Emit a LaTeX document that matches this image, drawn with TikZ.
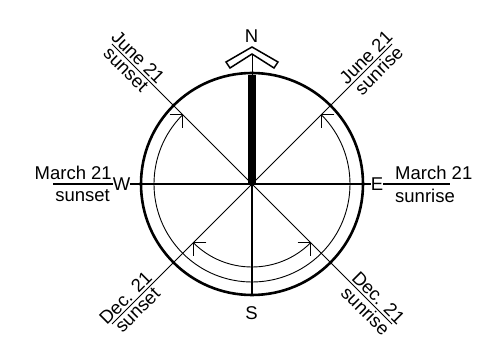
\documentclass[tikz,border=0pt]{standalone}
\usepackage{fontspec}
\setmainfont{Liberation Sans}
\usetikzlibrary{calc}
\begin{document}
\begin{tikzpicture}[x=1pt,y=1pt,
  lbl/.style={font=\fontsize{18.5}{21}\selectfont, inner sep=0pt},
  dlbl/.style={font=\fontsize{18.5}{21}\selectfont, inner sep=2.2pt},
  thinl/.style={line width=0.9pt},
  ring/.style={line width=2.6pt},
  mainl/.style={line width=2pt},
  rulel/.style={line width=1.2pt}]
\useasboundingbox (0,0) rectangle (485,348);
\coordinate (C) at (252,164);
% circles and arcs
\draw[ring] (C) circle[radius=111];
\draw[thinl] ($(C)+(135:98)$) arc[start angle=135,end angle=405,radius=98];
\draw[thinl] ($(C)+(225:83)$) arc[start angle=225,end angle=315,radius=83];
% arrow tips
\coordinate (tNW) at ($(C)+(135:98)$);
\coordinate (tNE) at ($(C)+(45:98)$);
\coordinate (tSW) at ($(C)+(225:83)$);
\coordinate (tSE) at ($(C)+(315:83)$);
\draw[thinl] ($(tNW)+(-13,0)$) -- (tNW) -- ($(tNW)+(0,-13)$);
\draw[thinl] ($(tNE)+(13,0)$) -- (tNE) -- ($(tNE)+(0,-13)$);
\draw[thinl] ($(tSW)+(13,0)$) -- (tSW) -- ($(tSW)+(0,-13)$);
\draw[thinl] ($(tSE)+(-13,0)$) -- (tSE) -- ($(tSE)+(0,-13)$);
% diagonals
\coordinate (eNW) at ($(C)+(-140,140)$);
\coordinate (eNE) at ($(C)+(140,140)$);
\coordinate (eSW) at ($(C)+(-140,-140)$);
\coordinate (eSE) at ($(C)+(140,-140)$);
\draw[thinl] (eNW) -- (eSE);
\draw[thinl] (eNE) -- (eSW);
% compass letters
\node[lbl] (W) at (121.5,164) {W};
\node[lbl] (E) at (377,164) {E};
\node[lbl] (N) at (251.5,312) {N};
\node[lbl] (S) at (251.5,35) {S};
% main lines
\draw[mainl] (W.east) -- (E.west);
\coordinate (bot) at ($(C)+(0,-111)$);
\draw[line width=1.8pt] (C) -- (bot);
\fill (248,164) rectangle (256,273);
\coordinate (chevin) at (252,294);
\coordinate (bartop) at (252,273);
\draw[thinl] (chevin) -- (bartop);
\draw[line width=1.5pt, line join=miter] (252,301) -- (226,286) -- (230,280) -- (chevin) -- (274,280) -- (278,286) -- cycle;
% horizontal labels
\coordinate (rL) at (53,164);
\coordinate (rR) at (450,164);
\draw[rulel] (rL) -- (W.west);
\draw[rulel] (E.east) -- (rR);
\node[lbl,anchor=base east] (mL) at (112,168) {March 21};
\node[lbl,anchor=north east] (sL) at (110,159) {sunset};
\node[lbl,anchor=base west] (mR) at (395,168) {March 21};
\node[lbl,anchor=north west] (sR) at (395,159) {sunrise};
% diagonal labels
\coordinate (lNW) at ($(C)+(135:170)$);
\coordinate (lNE) at ($(C)+(45:170)$);
\coordinate (lSW) at ($(C)+(225:170)$);
\coordinate (lSE) at ($(C)+(315:170)$);
\node[dlbl,rotate=-45,anchor=south] (jNW) at (lNW) {June 21};
\node[dlbl,rotate=-45,anchor=north] (sNW) at (lNW) {sunset};
\node[dlbl,rotate=45,anchor=south] (jNE) at (lNE) {June 21};
\node[dlbl,rotate=45,anchor=north] (sNE) at (lNE) {sunrise};
\node[dlbl,rotate=45,anchor=south] (dSW) at (lSW) {Dec. 21};
\node[dlbl,rotate=45,anchor=north] (sSW) at (lSW) {sunset};
\node[dlbl,rotate=-45,anchor=south] (dSE) at (lSE) {Dec. 21};
\node[dlbl,rotate=-45,anchor=north] (sSE) at (lSE) {sunrise};
\end{tikzpicture}
\end{document}
